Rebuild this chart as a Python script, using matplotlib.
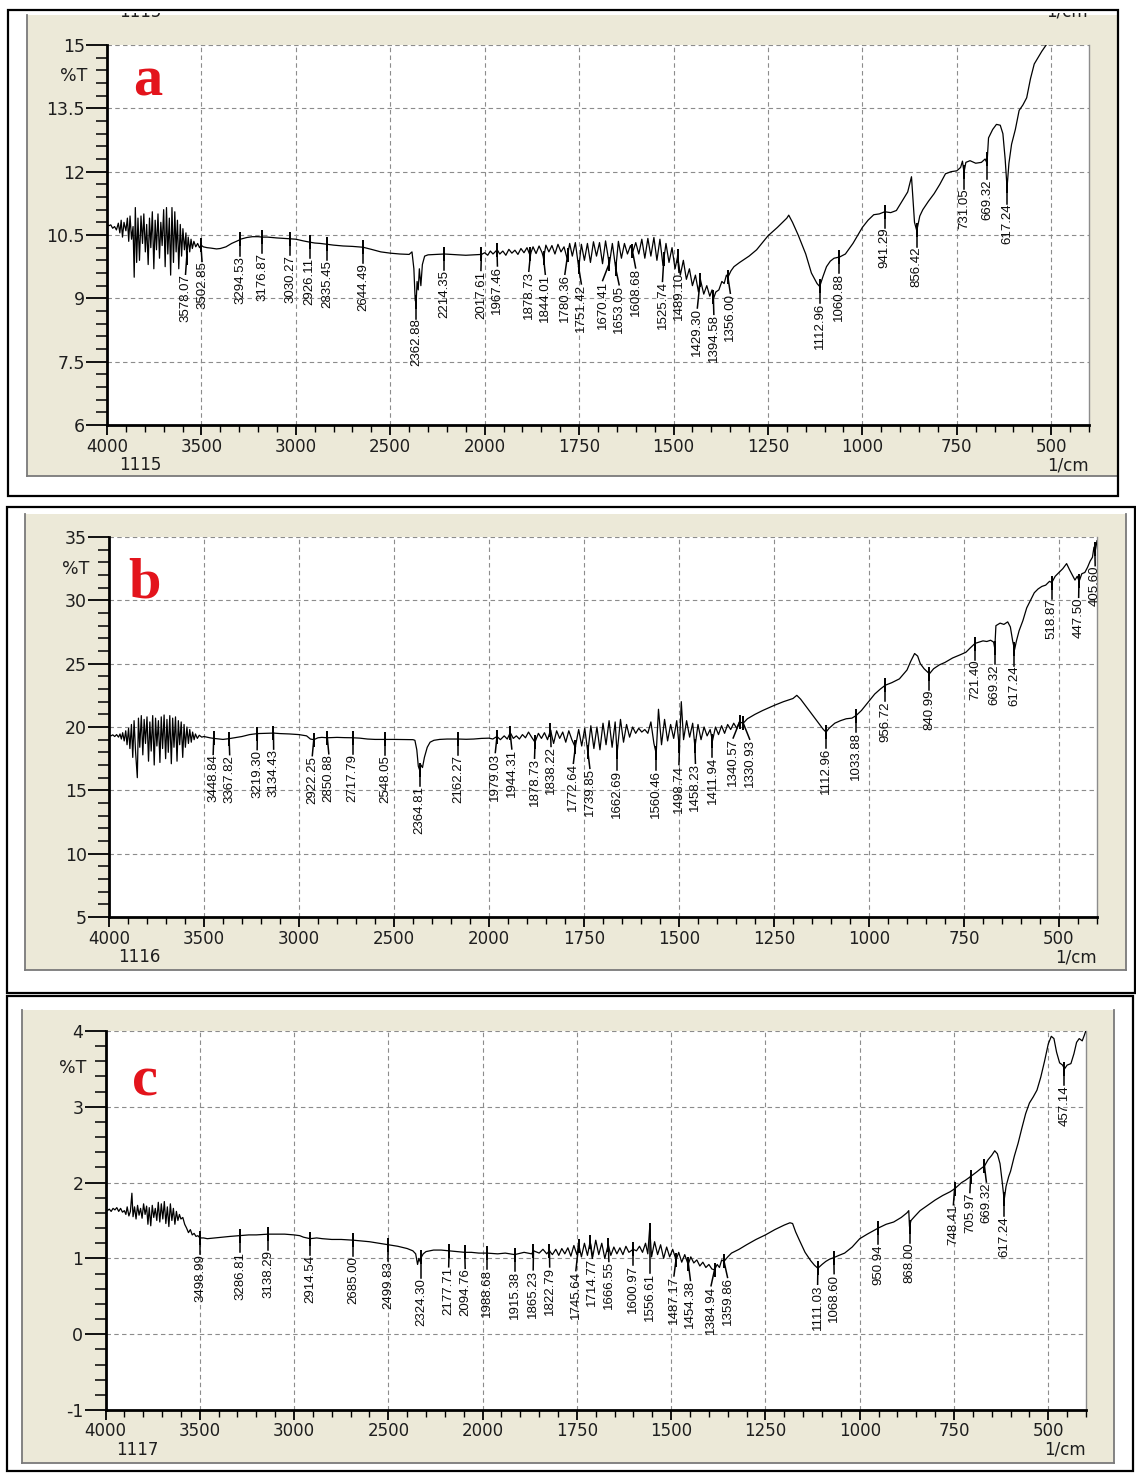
import numpy as np
import matplotlib
matplotlib.use('Agg')
import matplotlib.pyplot as plt
from matplotlib.patches import Rectangle
from matplotlib.lines import Line2D
from matplotlib.ticker import FixedLocator, FixedFormatter, MultipleLocator, NullFormatter
from matplotlib.transforms import Bbox, TransformedBbox

W, H = 1136, 1475

# ---- spectrum a (sample 1115): (wavenumber, %T) ----
spec_a = [
    (4000, 10.76), (3990, 10.72), (3980, 10.74), (3970, 10.66), (3960, 10.70), (3950, 10.62),
    (3940, 10.78), (3932, 10.55), (3925, 10.85), (3918, 10.45), (3910, 10.80), (3900, 10.60),
    (3892, 10.90), (3885, 10.35), (3878, 10.95), (3870, 10.40), (3862, 10.70), (3856, 9.50),
    (3850, 11.15), (3843, 9.85), (3836, 10.90), (3828, 9.90), (3820, 10.95), (3812, 10.30),
    (3805, 11.00), (3797, 10.10), (3790, 10.75), (3782, 9.80), (3775, 10.90), (3768, 10.20),
    (3760, 11.05), (3752, 9.70), (3745, 10.85), (3738, 10.15), (3730, 11.00), (3722, 9.95),
    (3715, 10.80), (3708, 10.25), (3700, 11.10), (3692, 9.75), (3685, 11.15), (3678, 10.05),
    (3670, 10.90), (3663, 9.55), (3656, 11.15), (3648, 9.85), (3641, 11.05), (3634, 10.10),
    (3627, 10.85), (3620, 9.70), (3612, 10.75), (3605, 10.00), (3598, 10.65), (3590, 10.15),
    (3582, 10.55), (3578, 9.95), (3570, 10.45), (3562, 10.10), (3555, 10.40), (3548, 10.18),
    (3540, 10.35), (3530, 10.22), (3520, 10.30), (3510, 10.20), (3502, 10.26), (3490, 10.22),
    (3470, 10.20), (3450, 10.19), (3420, 10.17), (3400, 10.18), (3370, 10.22), (3340, 10.30),
    (3300, 10.38), (3294, 10.40), (3260, 10.44), (3230, 10.46), (3200, 10.46), (3176, 10.45),
    (3150, 10.45), (3100, 10.43), (3060, 10.42), (3030, 10.41), (3000, 10.40), (2960, 10.36),
    (2926, 10.33), (2900, 10.31), (2870, 10.30), (2835, 10.28), (2800, 10.26), (2750, 10.24),
    (2700, 10.23), (2644, 10.21), (2600, 10.16), (2550, 10.10), (2500, 10.07), (2450, 10.05),
    (2400, 10.04), (2385, 10.10), (2375, 9.70), (2368, 8.95), (2363, 8.90), (2358, 9.40),
    (2352, 9.20), (2346, 9.70), (2338, 9.30), (2330, 9.80), (2318, 10.00), (2300, 10.03),
    (2260, 10.04), (2214, 10.05), (2180, 10.04), (2140, 10.03), (2100, 10.02), (2060, 10.03),
    (2017, 10.04), (2000, 10.08), (1992, 10.02), (1985, 10.12), (1978, 10.05), (1967, 10.15),
    (1960, 10.05), (1952, 10.12), (1944, 10.02), (1936, 10.16), (1928, 10.07), (1920, 10.14),
    (1912, 10.04), (1904, 10.18), (1896, 10.08), (1888, 10.20), (1880, 10.02), (1872, 10.22),
    (1864, 10.06), (1856, 10.24), (1848, 10.08), (1844, 9.95), (1838, 10.26), (1830, 10.10),
    (1822, 10.25), (1814, 10.05), (1806, 10.28), (1798, 10.10), (1790, 10.22), (1782, 9.95),
    (1775, 10.30), (1768, 10.00), (1760, 10.32), (1751, 9.72), (1744, 10.28), (1736, 9.90),
    (1728, 10.30), (1720, 9.85), (1712, 10.34), (1704, 10.00), (1696, 10.32), (1688, 9.82),
    (1680, 10.36), (1670, 9.80), (1662, 10.30), (1653, 9.70), (1646, 10.35), (1638, 9.95),
    (1630, 10.30), (1622, 10.05), (1614, 10.25), (1608, 10.10), (1600, 10.32), (1592, 10.05),
    (1584, 10.40), (1576, 9.95), (1568, 10.42), (1560, 10.00), (1552, 10.44), (1544, 9.90),
    (1536, 10.40), (1528, 9.78), (1520, 10.30), (1512, 9.85), (1504, 10.20), (1496, 9.70),
    (1489, 10.00), (1482, 9.55), (1474, 9.90), (1466, 9.45), (1458, 9.70), (1450, 9.30),
    (1442, 9.55), (1434, 9.15), (1429, 9.45), (1420, 9.10), (1412, 9.30), (1404, 9.05),
    (1398, 9.20), (1394, 9.00), (1388, 9.15), (1380, 9.20), (1372, 9.40), (1366, 9.35),
    (1360, 9.55), (1356, 9.50), (1348, 9.65), (1340, 9.75), (1325, 9.85), (1300, 10.00),
    (1280, 10.15), (1250, 10.48), (1225, 10.68), (1200, 10.90), (1195, 10.97), (1185, 10.80),
    (1170, 10.50), (1150, 10.05), (1135, 9.60), (1120, 9.35), (1113, 9.28), (1105, 9.50),
    (1095, 9.75), (1085, 9.88), (1075, 9.95), (1060, 9.98), (1045, 10.05), (1025, 10.30),
    (1000, 10.68), (985, 10.85), (970, 10.98), (955, 11.00), (941, 11.05), (925, 11.03),
    (910, 11.08), (895, 11.30), (880, 11.52), (870, 11.88), (862, 10.80), (856, 10.60),
    (848, 10.95), (840, 11.10), (825, 11.30), (810, 11.48), (795, 11.70), (780, 11.95),
    (765, 12.00), (750, 12.02), (740, 12.10), (735, 12.25), (731, 11.98), (726, 12.22),
    (715, 12.26), (700, 12.20), (685, 12.22), (675, 12.30), (670, 12.20), (666, 12.80),
    (655, 13.00), (645, 13.12), (635, 13.10), (628, 12.90), (622, 12.30), (617, 11.62),
    (612, 12.20), (605, 12.65), (595, 13.00), (585, 13.45), (575, 13.58), (565, 13.75),
    (555, 14.20), (545, 14.55), (535, 14.70), (525, 14.85), (515, 14.98), (505, 15.10),
    (500, 15.20),
]

# ---- spectrum b (sample 1116) ----
spec_b = [
    (4000, 19.35), (3990, 19.30), (3980, 19.38), (3970, 19.25), (3960, 19.40), (3950, 19.20),
    (3942, 19.45), (3935, 19.05), (3928, 19.55), (3920, 18.90), (3912, 19.70), (3905, 18.60),
    (3897, 19.90), (3890, 18.30), (3882, 20.20), (3875, 17.60), (3868, 20.50), (3860, 18.00),
    (3851, 16.00), (3845, 20.70), (3838, 18.40), (3830, 20.90), (3822, 17.80), (3815, 20.60),
    (3808, 18.70), (3800, 20.80), (3792, 17.30), (3785, 20.40), (3778, 18.10), (3770, 20.90),
    (3762, 17.00), (3755, 20.70), (3748, 18.50), (3740, 20.50), (3732, 17.20), (3725, 20.80),
    (3718, 18.30), (3710, 20.95), (3702, 17.50), (3695, 20.60), (3688, 18.00), (3680, 20.90),
    (3672, 17.10), (3665, 20.70), (3658, 18.40), (3650, 20.80), (3642, 17.30), (3635, 20.50),
    (3628, 18.60), (3620, 20.40), (3612, 17.60), (3605, 20.20), (3598, 18.40), (3590, 20.00),
    (3582, 18.70), (3575, 19.80), (3567, 18.80), (3560, 19.60), (3552, 19.00), (3545, 19.45),
    (3535, 19.10), (3525, 19.35), (3512, 19.20), (3500, 19.25), (3470, 19.15), (3449, 19.10),
    (3420, 19.05), (3400, 19.02), (3368, 19.08), (3340, 19.15), (3300, 19.25), (3260, 19.40),
    (3219, 19.48), (3180, 19.50), (3134, 19.52), (3100, 19.48), (3050, 19.45), (3000, 19.40),
    (2960, 19.30), (2940, 19.05), (2922, 19.00), (2900, 19.15), (2880, 19.18), (2851, 19.15),
    (2800, 19.18), (2760, 19.16), (2718, 19.15), (2680, 19.12), (2640, 19.05), (2600, 19.02),
    (2548, 19.02), (2500, 19.02), (2450, 19.01), (2400, 19.00), (2390, 18.95), (2380, 18.20),
    (2372, 16.90), (2365, 16.60), (2358, 17.00), (2350, 16.80), (2340, 17.60), (2325, 18.40),
    (2310, 18.80), (2290, 18.95), (2260, 19.02), (2220, 19.05), (2162, 19.05), (2120, 19.03),
    (2080, 19.05), (2040, 19.10), (2000, 19.12), (1990, 19.05), (1979, 19.25), (1970, 19.00),
    (1960, 19.30), (1952, 19.05), (1944, 19.55), (1936, 19.10), (1928, 19.30), (1920, 19.05),
    (1912, 19.40), (1904, 19.15), (1896, 19.60), (1888, 19.20), (1879, 18.80), (1870, 19.50),
    (1862, 19.10), (1854, 19.55), (1846, 19.00), (1838, 19.75), (1830, 18.70), (1822, 19.70),
    (1814, 19.10), (1806, 19.60), (1798, 18.80), (1790, 19.70), (1782, 19.00), (1773, 18.40),
    (1764, 19.80), (1756, 18.50), (1748, 19.90), (1740, 18.00), (1732, 20.10), (1724, 18.30),
    (1716, 20.00), (1708, 18.20), (1700, 20.30), (1692, 18.60), (1684, 20.50), (1676, 18.40),
    (1668, 20.40), (1663, 17.90), (1654, 20.60), (1646, 18.80), (1638, 20.20), (1630, 19.20),
    (1622, 20.00), (1614, 19.50), (1606, 19.90), (1598, 19.60), (1590, 19.80), (1582, 19.50),
    (1574, 20.40), (1566, 18.70), (1560, 17.90), (1554, 21.40), (1546, 18.60), (1538, 20.60),
    (1530, 18.90), (1522, 20.20), (1514, 19.10), (1506, 20.50), (1499, 18.30), (1494, 22.00),
    (1488, 19.00), (1480, 20.50), (1472, 19.20), (1464, 20.30), (1458, 18.40), (1450, 20.20),
    (1442, 19.00), (1434, 20.00), (1426, 19.30), (1418, 19.80), (1412, 18.90), (1404, 20.00),
    (1396, 19.40), (1388, 20.10), (1380, 19.50), (1372, 20.20), (1364, 19.80), (1356, 20.30),
    (1348, 19.90), (1341, 20.40), (1331, 20.30), (1320, 20.65), (1300, 21.00), (1280, 21.30),
    (1250, 21.70), (1225, 22.00), (1200, 22.25), (1190, 22.50), (1180, 22.20), (1165, 21.60),
    (1150, 21.00), (1135, 20.40), (1120, 19.80), (1113, 19.60), (1105, 19.90), (1090, 20.30),
    (1075, 20.50), (1060, 20.65), (1045, 20.70), (1034, 20.90), (1020, 21.30), (1000, 22.05),
    (985, 22.60), (970, 23.00), (957, 23.30), (940, 23.50), (920, 23.80), (900, 24.50),
    (890, 25.20), (880, 25.80), (872, 25.60), (865, 25.00), (855, 24.60), (841, 24.20),
    (830, 24.60), (815, 24.90), (800, 25.10), (780, 25.45), (760, 25.70), (745, 25.90),
    (735, 26.20), (721, 26.60), (710, 26.70), (700, 26.80), (690, 26.75), (680, 26.85),
    (672, 26.70), (669, 26.20), (666, 28.00), (655, 28.20), (645, 28.10), (635, 28.30),
    (628, 27.90), (622, 26.80), (617, 26.10), (612, 26.80), (605, 27.60), (595, 28.40),
    (585, 29.40), (575, 30.00), (565, 30.60), (555, 30.90), (545, 31.10), (535, 31.20),
    (525, 31.50), (519, 31.40), (510, 31.90), (500, 32.20), (490, 32.50), (480, 32.90),
    (472, 32.40), (465, 32.00), (458, 31.60), (452, 31.90), (447, 31.50), (440, 32.10),
    (432, 32.20), (425, 32.60), (418, 33.10), (412, 33.40), (408, 34.20), (404, 34.00),
    (400, 34.70),
]

# ---- spectrum c (sample 1117) ----
spec_c = [
    (4000, 1.64), (3990, 1.63), (3980, 1.65), (3970, 1.62), (3960, 1.66), (3950, 1.64),
    (3940, 1.67), (3930, 1.62), (3920, 1.66), (3910, 1.61), (3900, 1.63), (3892, 1.58),
    (3885, 1.68), (3876, 1.56), (3868, 1.62), (3860, 1.86), (3854, 1.55), (3846, 1.68),
    (3838, 1.52), (3830, 1.70), (3822, 1.57), (3814, 1.66), (3806, 1.53), (3798, 1.72),
    (3790, 1.58), (3782, 1.69), (3775, 1.45), (3768, 1.67), (3760, 1.43), (3752, 1.70),
    (3744, 1.54), (3736, 1.66), (3728, 1.50), (3720, 1.74), (3712, 1.48), (3704, 1.72),
    (3696, 1.52), (3688, 1.75), (3680, 1.46), (3672, 1.68), (3664, 1.42), (3656, 1.72),
    (3648, 1.50), (3640, 1.66), (3632, 1.45), (3624, 1.62), (3616, 1.50), (3608, 1.58),
    (3600, 1.52), (3590, 1.54), (3580, 1.45), (3570, 1.40), (3560, 1.34), (3550, 1.38),
    (3540, 1.31), (3530, 1.33), (3520, 1.29), (3510, 1.30), (3499, 1.27), (3480, 1.27),
    (3460, 1.26), (3420, 1.27), (3380, 1.28), (3340, 1.29), (3287, 1.30), (3240, 1.31),
    (3200, 1.31), (3138, 1.32), (3100, 1.32), (3050, 1.32), (3000, 1.31), (2970, 1.30),
    (2950, 1.28), (2915, 1.26), (2880, 1.27), (2850, 1.26), (2800, 1.25), (2750, 1.25),
    (2685, 1.24), (2640, 1.23), (2600, 1.22), (2550, 1.20), (2500, 1.18), (2450, 1.16),
    (2400, 1.13), (2370, 1.10), (2355, 1.06), (2345, 0.92), (2338, 1.00), (2330, 0.95),
    (2324, 1.02), (2315, 1.06), (2300, 1.09), (2260, 1.11), (2220, 1.11), (2178, 1.10),
    (2140, 1.09), (2095, 1.08), (2060, 1.08), (2020, 1.07), (1989, 1.07), (1960, 1.06),
    (1940, 1.07), (1915, 1.05), (1890, 1.08), (1870, 1.06), (1865, 1.10), (1850, 1.07),
    (1840, 1.12), (1830, 1.06), (1823, 1.10), (1815, 1.05), (1806, 1.12), (1798, 1.04),
    (1790, 1.13), (1782, 1.06), (1774, 1.14), (1766, 1.03), (1758, 1.17), (1750, 1.05),
    (1745, 1.18), (1738, 1.02), (1730, 1.20), (1722, 1.04), (1715, 1.22), (1708, 1.02),
    (1700, 1.24), (1692, 1.05), (1684, 1.20), (1676, 1.00), (1667, 1.18), (1660, 1.04),
    (1652, 1.15), (1644, 1.06), (1636, 1.14), (1628, 1.05), (1620, 1.16), (1612, 1.08),
    (1601, 1.12), (1592, 1.10), (1584, 1.16), (1576, 1.08), (1568, 1.20), (1562, 1.06),
    (1557, 1.40), (1552, 1.02), (1544, 1.22), (1536, 1.05), (1528, 1.18), (1520, 1.00),
    (1512, 1.15), (1504, 1.02), (1496, 1.12), (1487, 0.98), (1480, 1.08), (1472, 0.95),
    (1464, 1.05), (1455, 0.92), (1448, 1.02), (1440, 0.94), (1432, 0.98), (1424, 0.90),
    (1416, 0.95), (1408, 0.88), (1400, 0.92), (1392, 0.86), (1385, 0.85), (1378, 0.92),
    (1372, 0.88), (1366, 0.98), (1360, 0.96), (1350, 1.02), (1340, 1.07), (1320, 1.12),
    (1300, 1.18), (1275, 1.25), (1250, 1.31), (1225, 1.38), (1200, 1.44), (1185, 1.47),
    (1178, 1.46), (1170, 1.35), (1160, 1.24), (1145, 1.08), (1130, 0.97), (1120, 0.91),
    (1111, 0.87), (1100, 0.92), (1090, 0.96), (1080, 0.99), (1069, 1.01), (1055, 1.04),
    (1040, 1.07), (1020, 1.15), (1000, 1.26), (980, 1.32), (951, 1.40), (930, 1.45),
    (910, 1.48), (890, 1.54), (875, 1.60), (870, 1.63), (868, 1.42), (864, 1.50),
    (855, 1.55), (840, 1.63), (820, 1.70), (800, 1.77), (780, 1.83), (760, 1.88),
    (748, 1.92), (730, 2.00), (720, 2.03), (706, 2.08), (690, 2.14), (680, 2.18),
    (669, 2.22), (660, 2.30), (650, 2.36), (642, 2.42), (635, 2.38), (628, 2.25),
    (622, 2.00), (617, 1.77), (612, 1.95), (605, 2.08), (600, 2.15), (590, 2.35),
    (580, 2.52), (570, 2.72), (560, 2.91), (550, 3.05), (540, 3.13), (530, 3.22),
    (520, 3.39), (510, 3.60), (500, 3.83), (492, 3.93), (485, 3.90), (478, 3.72),
    (470, 3.58), (462, 3.55), (457, 3.50), (450, 3.55), (440, 3.57), (432, 3.70),
    (425, 3.85), (418, 3.90), (410, 3.87), (404, 3.95), (400, 4.01),
]

peaks_a = [3578.07, 3502.85, 3294.53, 3176.87, 3030.27, 2926.11, 2835.45, 2644.49, 2362.88,
           2214.35, 2017.61, 1967.46, 1878.73, 1844.01, 1780.36, 1751.42, 1670.41, 1653.05,
           1608.68, 1525.74, 1489.10, 1429.30, 1394.58, 1356.00, 1112.96, 1060.88, 941.29,
           856.42, 731.05, 669.32, 617.24]
peaks_b = [3448.84, 3367.82, 3219.30, 3134.43, 2922.25, 2850.88, 2717.79, 2548.05, 2364.81,
           2162.27, 1979.03, 1944.31, 1878.73, 1838.22, 1772.64, 1739.85, 1662.69, 1560.46,
           1498.74, 1458.23, 1411.94, 1340.57, 1330.93, 1112.96, 1033.88, 956.72, 840.99,
           721.40, 669.32, 617.24, 518.87, 447.50, 405.60]
peaks_c = [3498.99, 3286.81, 3138.29, 2914.54, 2685.00, 2499.83, 2324.30, 2177.71, 2094.76,
           1988.68, 1915.38, 1865.23, 1822.79, 1745.64, 1714.77, 1666.55, 1600.97, 1556.61,
           1487.17, 1454.38, 1384.94, 1359.86, 1111.03, 1068.60, 950.94, 868.00, 748.41,
           705.97, 669.32, 617.24, 457.14]

yticks_a = [6, 7.5, 9, 10.5, 12, 13.5, 15]
yticks_b = [5, 10, 15, 20, 25, 30, 35]
yticks_c = [-1, 0, 1, 2, 3, 4]
xticks = [4000, 3500, 3000, 2500, 2000, 1750, 1500, 1250, 1000, 750, 500]
xtick_labels = ['4000', '3500', '3000', '2500', '2000', '1750', '1500', '1250', '1000', '750', '500']
samples = ['1115', '1116', '1117']
letters = ['a', 'b', 'c']

# minor ticks: every 100 above 2000, every 50 below
xminor = [v for v in range(3900, 2000, -100) if v % 500] + \
         [v for v in range(1950, 399, -50) if v % 250]


def fwd(x):
    x = np.asarray(x, dtype=float)
    return np.where(x > 2000, 2000 + (x - 2000) / 2.0, x)


def inv(u):
    u = np.asarray(u, dtype=float)
    return np.where(u > 2000, 2000 + (u - 2000) * 2.0, u)


def spread(xs, gap):
    groups = []
    for x in xs:
        groups.append([x])
        while len(groups) > 1:
            g1, g2 = groups[-2], groups[-1]
            end1 = np.mean(g1) + gap * (len(g1) - 1) / 2
            start2 = np.mean(g2) - gap * (len(g2) - 1) / 2
            if start2 - end1 < gap:
                groups[-2:] = [g1 + g2]
            else:
                break
    out = []
    for g in groups:
        c = np.mean(g)
        out += [c + gap * (k - (len(g) - 1) / 2) for k in range(len(g))]
    return np.array(out)


def figrect(x0, y0, x1, y1):
    return (x0 / W, 1 - y1 / H), (x1 - x0) / W, (y1 - y0) / H


plt.rcParams['font.family'] = 'DejaVu Sans'
fig = plt.figure(figsize=(W / 100, H / 100), dpi=100)

layout = [
    dict(spec=spec_a, peaks=peaks_a, yticks=yticks_a, yminor=0.3,
         frame=(8, 10, 1118, 496), back=(27, 15, 1118, 476), plot=(107, 45, 1089, 425),
         letter_at=(0.027, 0.868), pct_y=0.918, id_x=0.034),
    dict(spec=spec_b, peaks=peaks_b, yticks=yticks_b, yminor=1,
         frame=(7, 507, 1135, 993), back=(25, 514, 1126, 970), plot=(109, 537, 1097, 917),
         letter_at=(0.019, 0.84), pct_y=0.915, id_x=0.031),
    dict(spec=spec_c, peaks=peaks_c, yticks=yticks_c, yminor=0.2,
         frame=(7, 996, 1133, 1471), back=(22, 1010, 1114, 1463), plot=(105.5, 1031, 1086, 1410),
         letter_at=(0.027, 0.831), pct_y=0.902, id_x=0.032),
]

for i, P in enumerate(layout):
    xy, w, h = figrect(*P['back'])
    fig.add_artist(Rectangle(xy, w, h, transform=fig.transFigure, facecolor='#ece9d8',
                             edgecolor='none', zorder=-3))
    bx0, by0, bx1, by1 = P['back']
    for xs_, ys_ in [((bx0, bx0), (by0, by1)), ((bx0, bx1), (by1, by1)), ((bx1, bx1), (by0, by1))]:
        fig.add_artist(Line2D([v / W for v in xs_], [1 - v / H for v in ys_],
                              transform=fig.transFigure, color='#7a7a7a', lw=1.3, zorder=-2))
    xy, w, h = figrect(*P['frame'])
    fig.add_artist(Rectangle(xy, w, h, transform=fig.transFigure, fill=False,
                             edgecolor='black', lw=1.6, zorder=-1))

    px0, py0, px1, py1 = P['plot']
    ax = fig.add_axes([px0 / W, 1 - py1 / H, (px1 - px0) / W, (py1 - py0) / H])
    ax.set_facecolor('white')
    ax.set_xscale('function', functions=(fwd, inv))
    ax.set_xlim(4000, 400)
    ax.set_ylim(P['yticks'][0], P['yticks'][-1])

    ax.xaxis.set_major_locator(FixedLocator(xticks))
    ax.xaxis.set_major_formatter(FixedFormatter(xtick_labels))
    ax.xaxis.set_minor_locator(FixedLocator(xminor))
    ax.xaxis.set_minor_formatter(NullFormatter())
    ax.set_yticks(P['yticks'])
    ax.set_yticklabels([f'{v:g}' for v in P['yticks']])
    ax.yaxis.set_minor_locator(MultipleLocator(P['yminor']))

    ax.tick_params(which='both', direction='out', color='black',
                   labelsize=12.5, labelcolor='#1e1e1e')
    ax.tick_params(axis='y', which='major', length=15, width=1.3, pad=1)
    ax.tick_params(axis='y', which='minor', length=8, width=1.1)
    ax.tick_params(axis='x', which='major', length=7, width=1.3, pad=2, labelsize=12)
    ax.tick_params(axis='x', which='minor', length=5, width=1.0)
    ax.grid(True, which='major', color='#8c8c8c', linestyle=(0, (4, 3)), linewidth=0.8)
    for s in ('left', 'bottom'):
        ax.spines[s].set_linewidth(2.0)
        ax.spines[s].set_color('black')
    ax.spines['top'].set_visible(False)
    ax.spines['right'].set_color('#8c8c8c')
    ax.spines['right'].set_linewidth(1.0)

    wn, T = map(np.array, zip(*P['spec']))
    ax.plot(wn, T, color='black', lw=0.9, zorder=3)

    # peak markers and rotated labels
    peaks = np.array(P['peaks'])
    order = np.argsort(wn)
    tm = np.interp(peaks, wn[order], T[order])
    low = np.array([min(T[np.abs(wn - p) <= 6].min(initial=t), t) for p, t in zip(peaks, tm)])
    pts = ax.transData.transform(np.column_stack([peaks, tm]))
    lowpx = ax.transData.transform(np.column_stack([peaks, low]))[:, 1]
    idx = np.argsort(pts[:, 0])
    xl = np.empty(len(peaks))
    xl[idx] = spread(pts[idx, 0], 16.5)
    back = ax.transData.inverted()
    ax.plot(peaks, tm, linestyle='none', marker='|', ms=10, mew=1.4, color='black', zorder=4)
    for p, t, xp, yp in zip(peaks, tm, xl, lowpx):
        xd, yd = back.transform((xp, yp - 16))
        ax.plot([p, xd], [t, yd], color='black', lw=1.1, zorder=4)
        ax.text(xd, yd, f'{p:.2f}', rotation=90, ha='center', va='top', fontsize=9.5,
                family='Liberation Sans', color='#0a0a0a', clip_on=True, zorder=5)

    # captions under the x axis, 40 px below it
    id_y = -40.0 / (py1 - py0)
    ax.text(-0.02, P['pct_y'], '%T', transform=ax.transAxes, ha='right', va='center',
            fontsize=12.5, color='#1e1e1e')
    ax.text(P['id_x'], id_y, samples[i], transform=ax.transAxes, ha='center',
            va='center', fontsize=12, color='#1e1e1e')
    ax.text(1.0, id_y, '1/cm', transform=ax.transAxes, ha='right', va='center',
            fontsize=12, color='#1e1e1e')
    lx, ly = P['letter_at']
    ax.text(lx, ly, letters[i], transform=ax.transAxes, ha='left', va='baseline',
            fontsize=42, fontweight='bold', family='Liberation Serif', color='#e3141c')

# cut-off caption of the previous page at the top of panel a
clip = TransformedBbox(Bbox.from_extents(27 / W, 1 - 476 / H, 1118 / W, 1 - 13 / H), fig.transFigure)
for s, xc in (('1115', 140), ('1/cm', 1067)):
    t = fig.text(xc / W, 1 - 17 / H, s, ha='center', va='baseline', fontsize=12, color='#1e1e1e')
    t.set_clip_box(clip)
    t.set_clip_on(True)

fig.savefig('out.png', dpi=100, facecolor='white')
